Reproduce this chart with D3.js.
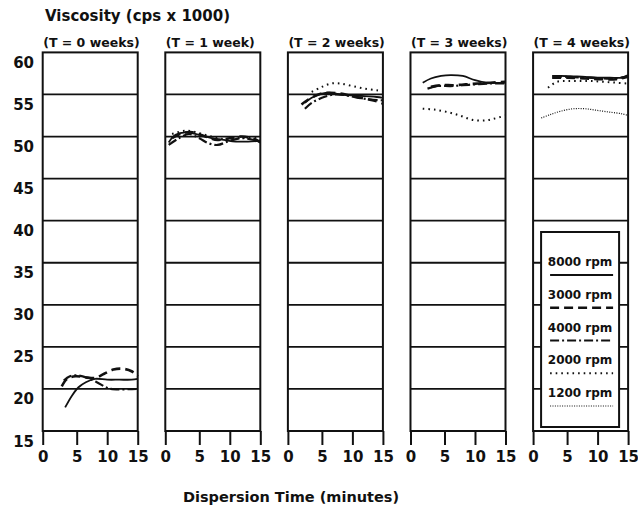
<!DOCTYPE html>
<html>
<head>
<meta charset="utf-8">
<script src="https://cdn.jsdelivr.net/npm/d3@7"></script>
<style>
body{margin:0;background:#fff;}
svg text{font-family:"DejaVu Sans",sans-serif;font-weight:bold;fill:#111;}
</style>
</head>
<body>
<div id="chart"></div>
<script>
// panel titles, speeds and tick values
var weeks = ["(T = 0 weeks)", "(T = 1 week)", "(T = 2 weeks)", "(T = 3 weeks)", "(T = 4 weeks)"];
var speeds = ["8000 rpm", "3000 rpm", "4000 rpm", "2000 rpm", "1200 rpm"];
var xTicks = [0, 5, 10, 15];
var yTicks = [15, 20, 25, 30, 35, 40, 45, 50, 55, 60];

// curves, [minutes, viscosity]
var week0 = [
	{rpm: "8000 rpm", pts: [[3.3,17.8],[4.3,19.2],[5.3,20.2],[6.5,20.8],[8,21.2],[10,21.1],[12,21.1],[14,21.1],[15,21.2]]},
	{rpm: "3000 rpm", pts: [[2.8,20.3],[3.6,21.2],[4.8,21.5],[6.3,21.4],[8,21.3],[9.5,21.8],[11,22.3],[12.5,22.4],[14,22.1],[15,21.5]]},
	{rpm: "4000 rpm", pts: [[3.1,21.0],[4,21.5],[5.3,21.6],[6.8,21.3],[8.3,20.8],[9.8,20.2],[10.6,20.0],[15,20.0]]}
];
var week1 = [
	{rpm: "8000 rpm", pts: [[0.5,49.3],[1.5,50.2],[3,50.5],[5,50.2],[7,49.8],[9,49.6],[11,49.4],[13,49.4],[15,49.5]]},
	{rpm: "3000 rpm", pts: [[1,49.8],[2.5,50.4],[4,50.5],[6,50.0],[8,49.6],[10,49.8],[12,50.0],[14,49.7],[15,49.3]]},
	{rpm: "4000 rpm", pts: [[0.5,49.0],[2,49.8],[3.5,50.3],[5,49.8],[6.5,49.2],[8,49.0],[10,49.5],[12,49.8],[14,49.6],[15,49.5]]},
	{rpm: "2000 rpm", pts: [[1,50.3],[3,50.7],[5,50.4],[7,50.0],[9,49.7],[11,49.8],[13,49.9],[15,49.8]]}
];
var week2 = [
	{rpm: "8000 rpm", pts: [[2.5,54.0],[3.5,54.6],[5,55.1],[6.5,55.2],[8,55.0],[10,54.9],[12,54.8],[14,54.7],[15,54.6]]},
	{rpm: "3000 rpm", pts: [[2,53.8],[3,54.4],[4.5,55.0],[6,55.2],[8,55.1],[10,54.8],[12,54.5],[14,54.2],[15,53.9]]},
	{rpm: "4000 rpm", pts: [[2.5,53.3],[3.5,54.0],[5,54.6],[7,55.0],[9,54.9],[11,54.6],[13,54.4],[15,54.3]]},
	{rpm: "2000 rpm", pts: [[3.5,55.3],[5,55.9],[6.5,56.3],[8,56.3],[10,56.0],[12,55.7],[14,55.5],[15,55.4]]}
];
var week3 = [
	{rpm: "8000 rpm", pts: [[1.8,56.4],[3,56.9],[4.5,57.2],[6,57.3],[8,57.2],[10,56.7],[12,56.4],[15,56.4]]},
	{rpm: "3000 rpm", pts: [[3,55.9],[4.5,56.1],[6.5,56.1],[8.5,56.2],[10.5,56.3],[12.5,56.4],[15,56.5]]},
	{rpm: "4000 rpm", pts: [[2.5,55.7],[4,56.0],[6,56.0],[8,56.1],[10,56.2],[12,56.3],[15,56.3]]},
	{rpm: "2000 rpm", pts: [[1.8,53.3],[3.5,53.2],[5.5,52.9],[7.5,52.5],[9.5,52.0],[11.5,51.9],[13,52.1],[15,52.5]]}
];
var week4 = [
	{rpm: "8000 rpm", pts: [[2.8,57.2],[4,57.2],[6,57.15],[8,57.1],[10,57.0],[12,57.0],[14,57.0],[15,57.3]]},
	{rpm: "3000 rpm", pts: [[2.8,57.0],[5,57.0],[8,56.9],[11,56.8],[13,56.8],[15,57.1]]},
	{rpm: "4000 rpm", pts: [[2.9,57.1],[5,57.1],[8,57.0],[11,56.9],[13,56.9],[15,57.2]]},
	{rpm: "2000 rpm", pts: [[2.2,55.8],[3.5,56.5],[5,56.6],[7,56.6],[9,56.6],[11,56.5],[13,56.4],[15,56.3]]},
	{rpm: "1200 rpm", pts: [[1.2,52.2],[2.5,52.6],[4,53.0],[6,53.3],[8,53.3],[10,53.1],[12,52.9],[14,52.7],[15,52.5]]}
];
var weekData = [week0, week1, week2, week3, week4];

var width = 638, height = 510;
var styles = {
	"8000 rpm": {w: 1.8, dash: null},
	"3000 rpm": {w: 2.6, dash: "9,5"},
	"4000 rpm": {w: 2.2, dash: "9,3,2,3"},
	"2000 rpm": {w: 2, dash: "1.6,4"},
	"1200 rpm": {w: 1.2, dash: "1,1.4"}
};

var svg = d3.select('#chart').append('svg')
	.attr('width', width).attr('height', height);

var panel = d3.scaleBand().domain(weeks).range([42.7, 628.1]).paddingInner(0.225);
var y = d3.scaleLinear().domain([15, 60]).range([431, 52.4]);
// the original's 0-5 interval is a little wider than the others
var x = d3.scaleLinear().domain([0, 5, 10, 15]).range([0, 34, 64.5, panel.bandwidth()]);

var line = d3.line()
	.x(function(d){ return x(d[0]); })
	.y(function(d){ return y(d[1]); })
	.curve(d3.curveCatmullRom.alpha(0.5));

svg.append('text')
	.attr('x', 45).attr('y', 21)
	.attr('font-size', 15)
	.text('Viscosity (cps x 1000)');

// y labels sit a bit under their grid lines in the original
svg.append('g').selectAll('text').data(yTicks).enter().append('text')
	.attr('x', 34)
	.attr('y', function(d){ return y(d) + 10.5; })
	.attr('text-anchor', 'end')
	.attr('dominant-baseline', 'central')
	.attr('font-size', 15)
	.text(function(d){ return d; });

weeks.forEach(function(wk, i){
	var g = svg.append('g').attr('transform', 'translate(' + [panel(wk), 0] + ')');
	var pw = panel.bandwidth();

	g.append('text')
		.attr('x', 0.5).attr('y', 47)
		.attr('font-size', 12.5)
		.text(wk);

	g.selectAll('.grid').data(yTicks.slice(1, -1)).enter().append('line')
		.attr('class', 'grid')
		.attr('x1', 0).attr('x2', pw)
		.attr('y1', function(d){ return y(d); })
		.attr('y2', function(d){ return y(d); })
		.attr('stroke', '#111').attr('stroke-width', 1.8);

	g.selectAll('.curve').data(weekData[i]).enter().append('path')
		.attr('class', 'curve')
		.attr('d', function(d){ return line(d.pts); })
		.attr('fill', 'none')
		.attr('stroke', '#111')
		.attr('stroke-width', function(d){ return styles[d.rpm].w; })
		.attr('stroke-dasharray', function(d){ return styles[d.rpm].dash; });

	g.append('rect')
		.attr('x', 0).attr('y', y(60))
		.attr('width', pw).attr('height', y(15) - y(60))
		.attr('fill', 'none').attr('stroke', '#111').attr('stroke-width', 2);

	var ax = g.append('g').attr('transform', 'translate(0,' + y(15) + ')')
		.call(d3.axisBottom(x).tickValues(xTicks).tickSize(14).tickSizeOuter(0).tickPadding(6));
	ax.select('.domain').remove();
	ax.selectAll('line').attr('stroke', '#111').attr('stroke-width', 2);
	ax.selectAll('text')
		.attr('font-size', 15)
		.attr('fill', '#111')
		.style('font-family', '"DejaVu Sans",sans-serif')
		.style('font-weight', 'bold');

	if (i === weeks.length - 1) {
		var leg = g.append('g');
		var ly = d3.scalePoint().domain(speeds).range([262, 393]);
		leg.append('rect')
			.attr('x', 8).attr('y', 232)
			.attr('width', 78).attr('height', 195)
			.attr('fill', '#fff').attr('stroke', '#111').attr('stroke-width', 2);
		leg.selectAll('text').data(speeds).enter().append('text')
			.attr('x', 47)
			.attr('y', function(d){ return ly(d); })
			.attr('text-anchor', 'middle')
			.attr('dominant-baseline', 'central')
			.attr('font-size', 12)
			.text(function(d){ return d; });
		leg.selectAll('line').data(speeds).enter().append('line')
			.attr('x1', 17).attr('x2', 80)
			.attr('y1', function(d){ return ly(d) + 13; })
			.attr('y2', function(d){ return ly(d) + 13; })
			.attr('stroke', '#111')
			.attr('stroke-width', function(d){ return styles[d].w; })
			.attr('stroke-dasharray', function(d){ return styles[d].dash; });
	}
});

svg.append('text')
	.attr('x', 291).attr('y', 502)
	.attr('text-anchor', 'middle')
	.attr('font-size', 14.5)
	.text('Dispersion Time (minutes)');
</script>
</body>
</html>
